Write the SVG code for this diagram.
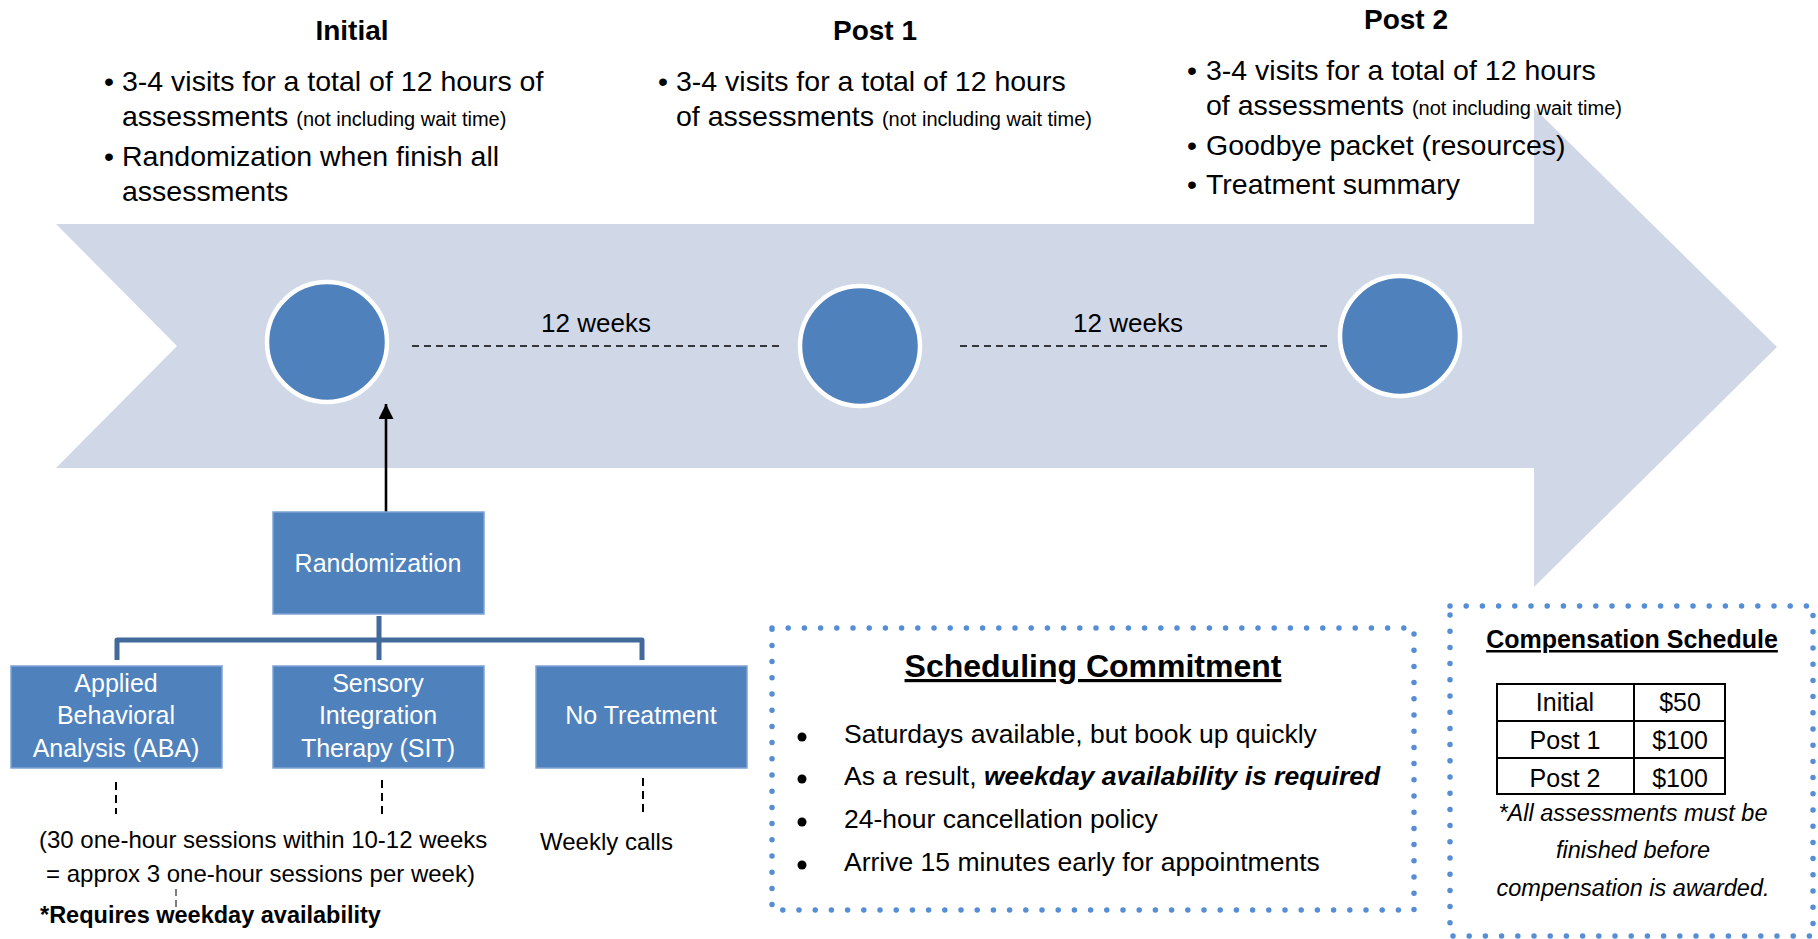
<svg xmlns="http://www.w3.org/2000/svg" width="1818" height="939" viewBox="0 0 1818 939">
<defs>
<style>
text{font-family:"Liberation Sans",Arial,sans-serif;fill:#000}
.t{font-size:28.5px}
.sm{font-size:20px}
.h{font-size:28px;font-weight:bold;text-anchor:middle}
.box{fill:#4F81BD;stroke:#7FA3D3;stroke-width:1.5}
.bt{fill:#fff;font-size:25px;text-anchor:middle}
.dot{fill:none;stroke:#558ED5;stroke-width:5.5;stroke-linecap:round;stroke-dasharray:0 16.2}
.dash{stroke:#000;stroke-width:1.6;stroke-dasharray:7 5;fill:none}
.vd{stroke:#000;stroke-width:2;stroke-dasharray:8 5;fill:none}
.tree{stroke:#41699A;stroke-width:5;fill:none;stroke-linejoin:round}
.circ{fill:#4F81BD;stroke:#fff;stroke-width:4.5}
.s24{font-size:24px}
.sb{font-size:26.5px}
</style>
<marker id="ah" markerWidth="15" markerHeight="15" refX="15" refY="7.5" orient="auto" markerUnits="userSpaceOnUse" viewBox="0 0 15 15">
<path d="M0,0 L15,7.5 L0,15 Z" fill="#000"/>
</marker>
</defs>
<rect width="1818" height="939" fill="#fff"/>

<g id="timeline-arrow">
<polygon points="56,224 1534,224 1534,108 1777,347 1534,587 1534,468 56,468 177,346" fill="#D0D8E8"/>
</g>

<g id="initial-text">
<text class="h" x="352" y="40">Initial</text>
<text class="t" x="104" y="91">•</text>
<text class="t" x="122" y="91">3-4 visits for a total of 12 hours of</text>
<text class="t" x="122" y="126">assessments <tspan class="sm">(not including wait time)</tspan></text>
<text class="t" x="104" y="166">•</text>
<text class="t" x="122" y="166">Randomization when finish all</text>
<text class="t" x="122" y="201">assessments</text>
</g>

<g id="post1-text">
<text class="h" x="875" y="40">Post 1</text>
<text class="t" x="658" y="91">•</text>
<text class="t" x="676" y="91">3-4 visits for a total of 12 hours</text>
<text class="t" x="676" y="126">of assessments <tspan class="sm">(not including wait time)</tspan></text>
</g>

<g id="post2-text">
<text class="h" x="1406" y="29">Post 2</text>
<text class="t" x="1187" y="80">•</text>
<text class="t" x="1206" y="80">3-4 visits for a total of 12 hours</text>
<text class="t" x="1206" y="115">of assessments <tspan class="sm">(not including wait time)</tspan></text>
<text class="t" x="1187" y="155">•</text>
<text class="t" x="1206" y="155">Goodbye packet (resources)</text>
<text class="t" x="1187" y="194">•</text>
<text class="t" x="1206" y="194">Treatment summary</text>
</g>

<g id="connectors">
<line class="dash" x1="412" y1="346" x2="784" y2="346"/>
<line class="dash" x1="960" y1="346" x2="1332" y2="346"/>
<line x1="386" y1="512" x2="386" y2="404" stroke="#000" stroke-width="2.6" marker-end="url(#ah)"/>
<path class="tree" d="M379,616 V640 M117,660 V640 H642 V660 M379,640 V660"/>
<line class="vd" x1="116" y1="782" x2="116" y2="814"/>
<line class="vd" x1="382" y1="780" x2="382" y2="814"/>
<line class="vd" x1="643" y1="778" x2="643" y2="812"/>
<line x1="176" y1="889" x2="176" y2="911" stroke="#000" stroke-width="1" stroke-dasharray="7 4"/>
</g>

<g id="node-initial"><circle class="circ" cx="327" cy="342" r="60"/></g>
<g id="node-post1"><circle class="circ" cx="860" cy="346" r="60"/></g>
<g id="node-post2"><circle class="circ" cx="1400" cy="336" r="60"/></g>

<g id="label-12w-1"><text x="596" y="332" font-size="26" text-anchor="middle">12 weeks</text></g>
<g id="label-12w-2"><text x="1128" y="332" font-size="26" text-anchor="middle">12 weeks</text></g>

<g id="node-randomization">
<rect class="box" x="273" y="512" width="211" height="102"/>
<text class="bt" x="378" y="572">Randomization</text>
</g>

<g id="node-aba">
<rect class="box" x="11" y="666" width="211" height="102"/>
<text class="bt" x="116" y="692">Applied</text>
<text class="bt" x="116" y="724">Behavioral</text>
<text class="bt" x="116" y="757">Analysis (ABA)</text>
</g>

<g id="node-sit">
<rect class="box" x="273" y="666" width="211" height="102"/>
<text class="bt" x="378" y="692">Sensory</text>
<text class="bt" x="378" y="724">Integration</text>
<text class="bt" x="378" y="757">Therapy (SIT)</text>
</g>

<g id="node-notreatment">
<rect class="box" x="536" y="666" width="211" height="102"/>
<text class="bt" x="641" y="724">No Treatment</text>
</g>

<g id="aba-notes">
<text class="s24" x="39" y="848">(30 one-hour sessions within 10-12 weeks</text>
<text class="s24" x="46" y="882">= approx 3 one-hour sessions per week)</text>
<text x="40" y="923" font-size="23.5" font-weight="bold">*Requires weekday availability</text>
</g>

<g id="notreatment-notes">
<text class="s24" x="540" y="850">Weekly calls</text>
</g>

<g id="scheduling">
<rect class="dot" x="772" y="628" width="642" height="282"/>
<text x="1093" y="677" font-size="32" font-weight="bold" text-anchor="middle" text-decoration="underline">Scheduling Commitment</text>
<circle cx="802" cy="737" r="4.5"/>
<circle cx="802" cy="779" r="4.5"/>
<circle cx="802" cy="822" r="4.5"/>
<circle cx="802" cy="865" r="4.5"/>
<text class="sb" x="844" y="743">Saturdays available, but book up quickly</text>
<text class="sb" x="844" y="785">As a result, <tspan font-weight="bold" font-style="italic">weekday availability is required</tspan></text>
<text class="sb" x="844" y="828">24-hour cancellation policy</text>
<text class="sb" x="844" y="871">Arrive 15 minutes early for appointments</text>
</g>

<g id="compensation">
<rect class="dot" x="1450" y="606" width="363" height="330"/>
<text x="1632" y="648" font-size="25" font-weight="bold" text-anchor="middle" text-decoration="underline">Compensation Schedule</text>
<g stroke="#000" stroke-width="2" fill="none">
<rect x="1497" y="684" width="228" height="110"/>
<line x1="1634" y1="684" x2="1634" y2="794"/>
<line x1="1497" y1="721" x2="1725" y2="721"/>
<line x1="1497" y1="758" x2="1725" y2="758"/>
</g>
<g font-size="25" text-anchor="middle">
<text x="1565" y="711">Initial</text>
<text x="1680" y="711">$50</text>
<text x="1565" y="749">Post 1</text>
<text x="1680" y="749">$100</text>
<text x="1565" y="787">Post 2</text>
<text x="1680" y="787">$100</text>
</g>
<g font-size="23.5" font-style="italic" text-anchor="middle">
<text x="1633" y="821">*All assessments must be</text>
<text x="1633" y="858">finished before</text>
<text x="1633" y="896">compensation is awarded.</text>
</g>
</g>
</svg>
